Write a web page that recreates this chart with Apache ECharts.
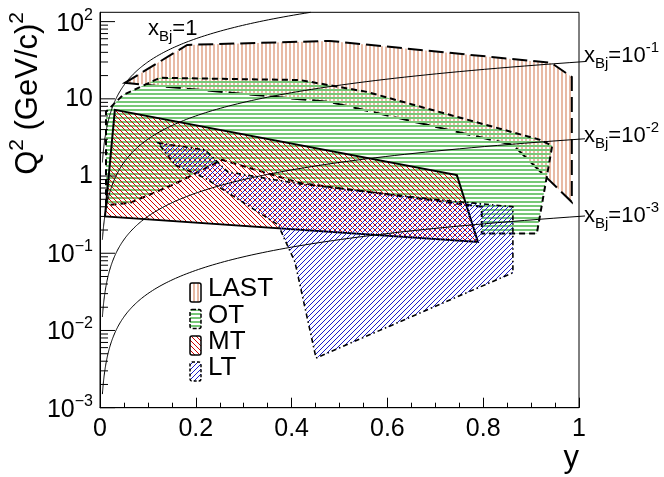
<!DOCTYPE html>
<html>
<head>
<meta charset="utf-8">
<script src="https://cdn.jsdelivr.net/npm/echarts@6/dist/echarts.min.js"></script>
<style>
  html, body { margin: 0; padding: 0; background: #fff; }
  #c { width: 664px; height: 477px; }
</style>
</head>
<body>
<div id="c"></div>
<script>
// Kinematic coverage of the trigger systems in the (y, Q^2) plane.

// Acceptance regions: polygon vertices as [y, Q^2 (GeV/c)^2]
const lastRegion = [[0.052, 16.1], [0.182, 49.9], [0.480, 56.2], [0.942, 29.2], [0.985, 19.2],
                    [0.985, 0.46], [0.862, 2.53], [0.480, 9.1]];
const otRegion   = [[0.0125, 0.42], [0.0125, 6.8], [0.048, 11.2], [0.125, 18.7], [0.418, 17.5],
                    [0.557, 12.3], [0.919, 2.94], [0.944, 2.46], [0.912, 0.18], [0.797, 0.18],
                    [0.797, 0.40], [0.418, 0.81], [0.255, 1.62], [0.152, 0.77], [0.063, 0.45]];
const mtRegion   = [[0.0104, 0.30], [0.031, 7.2], [0.745, 1.03], [0.789, 0.14]];
const ltRegion   = [[0.121, 2.69], [0.219, 2.18], [0.267, 1.13], [0.418, 0.79], [0.710, 0.49],
                    [0.862, 0.40], [0.862, 0.056], [0.451, 0.0044], [0.407, 0.077], [0.372, 0.233],
                    [0.219, 0.944], [0.157, 1.39]];

const legendNames = ['LAST', 'OT', 'MT', 'LT'];

// Lines of constant x_Bj: Q^2 = 2 M E x y for a 160 GeV beam on a nucleon
const xBjValues = [1, 0.1, 0.01, 0.001];
const xBjLabels = ['1', '-1', '-2', '-3'];
const beamEnergy = 160;   // GeV
const nucleonMass = 0.938; // GeV
const yCurveStart = 0.005;
const yCurveEnd = 1.0125;

// Axes
const xRange = [0, 1];
const q2Range = [0.001, 132];
const xMajorTicks = [0, 0.2, 0.4, 0.6, 0.8, 1];
const q2Decades = [0.001, 0.01, 0.1, 1, 10, 100];
const q2MinorSteps = [2, 3, 4, 5, 6, 7, 8, 9];

const FONT = 'Liberation Sans, Arial, Helvetica, sans-serif';

function hatch(kind, color, size, width) {
  const c = document.createElement('canvas');
  c.width = size; c.height = size;
  const g = c.getContext('2d');
  g.strokeStyle = color;
  g.lineWidth = width;
  g.beginPath();
  if (kind === 'v') {
    g.moveTo(size / 2, 0); g.lineTo(size / 2, size);
  } else if (kind === 'h') {
    g.moveTo(0, size / 2); g.lineTo(size, size / 2);
  } else {
    for (const o of [-size, 0, size]) {
      if (kind === 'bs') { g.moveTo(o, 0); g.lineTo(o + size, size); }
      else { g.moveTo(o, size); g.lineTo(o + size, 0); }
    }
  }
  g.stroke();
  return { image: c, repeat: 'repeat' };
}

const fills = {
  LAST: hatch('v', '#e3a98e', 4, 1.6),
  OT: hatch('h', '#77c877', 4, 2),
  MT: hatch('bs', '#d40000', 5, 1),
  LT: hatch('fs', '#1a1ac8', 5, 1)
};
const borders = {
  LAST: { dash: [15, 6], width: 2 },
  OT: { dash: [6, 4], width: 2 },
  MT: { dash: null, width: 2 },
  LT: { dash: [5, 3, 1.5, 3], width: 1.6 }
};

function regionSeries(name, pts) {
  return {
    type: 'custom',
    name: name,
    coordinateSystem: 'cartesian2d',
    data: pts,
    encode: { x: 0, y: 1 },
    silent: true,
    z: 3,
    renderItem: function (params, api) {
      if (params.dataIndex !== 0) return null;
      return {
        type: 'polygon',
        shape: { points: pts.map(p => api.coord(p)) },
        style: {
          fill: fills[name],
          stroke: '#000',
          lineWidth: borders[name].width,
          lineDash: borders[name].dash
        }
      };
    }
  };
}

const kinFactor = 2 * nucleonMass * beamEnergy;
const curveSeries = {
  type: 'custom',
  name: 'xBj',
  coordinateSystem: 'cartesian2d',
  data: xBjValues.map(x => [1, kinFactor * x]),
  encode: { x: 0, y: 1 },
  silent: true,
  z: 4,
  renderItem: function (params, api) {
    const x = xBjValues[params.dataIndex];
    const yEnd = Math.min(yCurveEnd, q2Range[1] / (kinFactor * x));
    const pts = [];
    const n = 160;
    for (let i = 0; i <= n; i++) {
      const y = yCurveStart * Math.pow(yEnd / yCurveStart, i / n);
      pts.push(api.coord([y, kinFactor * x * y]));
    }
    return { type: 'polyline', shape: { points: pts }, style: { stroke: '#000', lineWidth: 1, fill: null } };
  }
};

// Log-axis ticks (major at decades, minor at 2..9)
const q2Ticks = [];
q2Decades.forEach(d => {
  q2Ticks.push([0, d, 1]);
  q2MinorSteps.forEach(k => { if (k * d <= q2Range[1]) q2Ticks.push([0, k * d, 0]); });
});
const tickSeries = {
  type: 'custom',
  name: 'q2ticks',
  coordinateSystem: 'cartesian2d',
  data: q2Ticks,
  encode: { x: 0, y: 1 },
  silent: true,
  z: 5,
  renderItem: function (params, api) {
    const p = api.coord([api.value(0), api.value(1)]);
    const len = api.value(2) ? 15 : 8;
    return { type: 'line', shape: { x1: p[0], y1: p[1], x2: p[0] + len, y2: p[1] }, style: { stroke: '#000', lineWidth: 1 } };
  }
};

function q2Label(v) {
  const l = Math.log10(v);
  const e = Math.round(l);
  if (Math.abs(l - e) > 1e-6) return '';
  if (e === 0) return '{b|1}';
  if (e === 1) return '{b|10}';
  return '{b|10}{s|' + (e < 0 ? '\u2212' : '') + Math.abs(e) + '}';
}

const richBase = { fontSize: 25, fontFamily: FONT, color: '#000', verticalAlign: 'bottom' };
const richSup = { fontSize: 16, fontFamily: FONT, color: '#000', verticalAlign: 'top', padding: [0, 0, 13, 0] };

const xBjRich = {
  b: { fontSize: 22, fontFamily: FONT, color: '#000', verticalAlign: 'middle' },
  sub: { fontSize: 15, fontFamily: FONT, color: '#000', verticalAlign: 'bottom', padding: [16, 0, 0, 0] },
  sup: { fontSize: 15, fontFamily: FONT, color: '#000', verticalAlign: 'top', padding: [0, 0, 16, 0] }
};
const xBjLabelPos = [[148, 29], [584, 56], [584, 136], [584, 216]];
const xBjTexts = xBjLabels.map((t, i) => ({
  type: 'text',
  x: xBjLabelPos[i][0], y: xBjLabelPos[i][1],
  z: 10,
  style: {
    text: i === 0 ? '{b|x}{sub|Bj}{b|=1}' : '{b|x}{sub|Bj}{b|=10}{sup|' + t + '}',
    rich: xBjRich,
    align: 'left', verticalAlign: 'middle'
  }
}));

// Legend
const legendRowY = [289, 315.5, 342, 368];
const legendBoxDash = { LAST: null, OT: [4, 2], MT: null, LT: [3, 2] };
const legendItems = [];
legendNames.forEach((nm, i) => {
  legendItems.push({
    type: 'rect', z: 10,
    shape: { x: 190, y: legendRowY[i] - 6, width: 11, height: 19, r: 2 },
    style: { fill: fills[nm], stroke: '#000', lineWidth: 1.5, lineDash: legendBoxDash[nm] }
  });
  legendItems.push({
    type: 'text', z: 10, x: 208, y: legendRowY[i],
    style: { text: nm, fontSize: 26, fontFamily: FONT, fill: '#000', align: 'left', verticalAlign: 'middle' }
  });
});

const option = {
  animation: false,
  backgroundColor: '#fff',
  grid: {
    left: 100, right: 85, top: 12.3, bottom: 69.3,
    show: true, borderColor: '#000', borderWidth: 1,
    containLabel: false, outerBoundsMode: 'none'
  },
  xAxis: {
    type: 'value', min: xRange[0], max: xRange[1], interval: 0.2,
    axisLine: { show: true, lineStyle: { color: '#000', width: 1 } },
    axisTick: { show: true, inside: true, length: 10, lineStyle: { color: '#000' } },
    minorTick: { show: true, splitNumber: 4, length: 5, lineStyle: { color: '#000' } },
    splitLine: { show: false },
    axisLabel: {
      fontSize: 25, fontFamily: FONT, color: '#000', margin: 9,
      formatter: v => (v === 0 ? '0' : v === 1 ? '1' : String(+v.toFixed(1)))
    }
  },
  yAxis: {
    type: 'log', logBase: 10, min: q2Range[0], max: q2Range[1],
    axisLine: { show: true, lineStyle: { color: '#000', width: 1 } },
    axisTick: { show: false },
    splitLine: { show: false },
    axisLabel: {
      margin: 7, formatter: q2Label,
      rich: { b: richBase, s: richSup }
    }
  },
  graphic: [
    {
      type: 'text', x: 25, y: 12, rotation: Math.PI / 2, z: 10,
      style: {
        text: '{b|Q}{s|2}{b| (GeV/c)}{s|2}',
        align: 'right', verticalAlign: 'middle',
        rich: {
          b: { fontSize: 31, fontFamily: FONT, color: '#000', verticalAlign: 'bottom' },
          s: { fontSize: 21, fontFamily: FONT, color: '#000', verticalAlign: 'top', padding: [0, 0, 16, 0] }
        }
      }
    },
    {
      type: 'text', x: 579, y: 458, z: 10,
      style: { text: 'y', fontSize: 31, fontFamily: FONT, fill: '#000', align: 'right', verticalAlign: 'middle' }
    }
  ].concat(xBjTexts, legendItems),
  series: [
    regionSeries('LAST', lastRegion),
    regionSeries('OT', otRegion),
    regionSeries('MT', mtRegion),
    regionSeries('LT', ltRegion),
    curveSeries,
    tickSeries
  ]
};

const chart = echarts.init(document.getElementById('c'), null, { renderer: 'canvas', width: 664, height: 477 });
chart.setOption(option);
</script>
</body>
</html>
